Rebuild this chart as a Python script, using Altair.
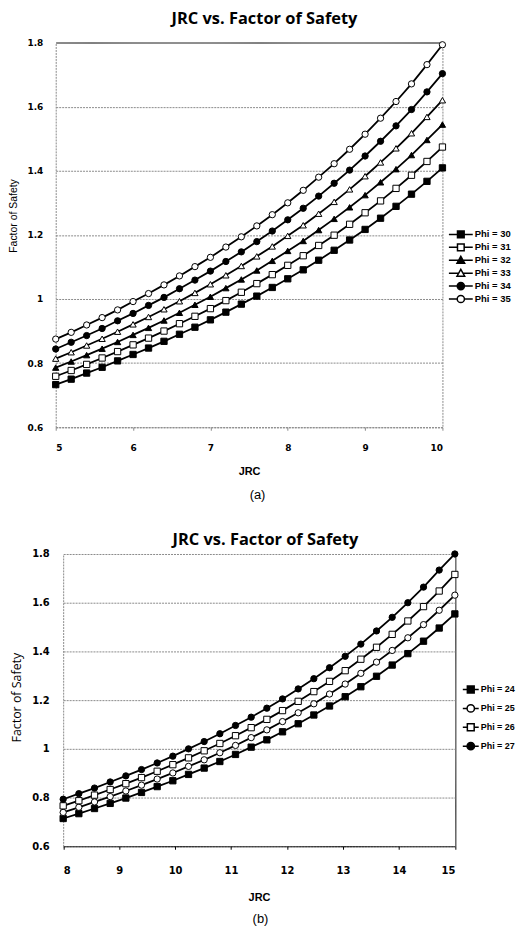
import altair as alt
import pandas as pd

# ---------------- panel (a) ----------------
jrc_a = [5.0, 5.2, 5.4, 5.6, 5.8, 6.0, 6.2, 6.4, 6.6, 6.8, 7.0, 7.2, 7.4,
         7.6, 7.8, 8.0, 8.2, 8.4, 8.6, 8.8, 9.0, 9.2, 9.4, 9.6, 9.8, 10.0]
names_a = ["Phi = 30", "Phi = 31", "Phi = 32", "Phi = 33", "Phi = 34", "Phi = 35"]
phi30 = [0.733, 0.750, 0.769, 0.787, 0.807, 0.827, 0.847, 0.868, 0.890, 0.912, 0.935, 0.959, 0.984,
         1.009, 1.036, 1.063, 1.091, 1.121, 1.152, 1.184, 1.217, 1.252, 1.289, 1.327, 1.367, 1.409]
phi31 = [0.759, 0.777, 0.796, 0.816, 0.836, 0.857, 0.878, 0.900, 0.923, 0.946, 0.970, 0.995, 1.021,
         1.048, 1.076, 1.105, 1.135, 1.167, 1.199, 1.233, 1.269, 1.306, 1.345, 1.386, 1.429, 1.474]
phi32 = [0.786, 0.805, 0.825, 0.845, 0.866, 0.888, 0.910, 0.933, 0.957, 0.982, 1.007, 1.034, 1.061,
         1.089, 1.119, 1.150, 1.181, 1.215, 1.250, 1.286, 1.324, 1.364, 1.405, 1.449, 1.496, 1.544]
phi33 = [0.814, 0.834, 0.855, 0.876, 0.898, 0.921, 0.944, 0.968, 0.993, 1.019, 1.046, 1.074, 1.103,
         1.133, 1.164, 1.197, 1.230, 1.266, 1.303, 1.342, 1.383, 1.426, 1.470, 1.517, 1.568, 1.620]
phi34 = [0.844, 0.865, 0.886, 0.908, 0.932, 0.955, 0.980, 1.005, 1.032, 1.059, 1.087, 1.117, 1.147,
         1.179, 1.212, 1.247, 1.283, 1.321, 1.361, 1.402, 1.446, 1.492, 1.540, 1.591, 1.646, 1.703]
phi35 = [0.875, 0.896, 0.919, 0.942, 0.966, 0.992, 1.017, 1.044, 1.072, 1.101, 1.130, 1.162, 1.194,
         1.228, 1.263, 1.300, 1.339, 1.380, 1.422, 1.467, 1.514, 1.564, 1.616, 1.671, 1.731, 1.793]
series_a = [phi30, phi31, phi32, phi33, phi34, phi35]
shapes_a = ["square", "square", "triangle-up", "triangle-up", "circle", "circle"]
fills_a = ["black", "white", "black", "white", "black", "white"]
xticks_a = [5, 6, 7, 8, 9, 10]

# ---------------- panel (b) ----------------
jrc_b = [8.00, 8.28, 8.56, 8.84, 9.12, 9.40, 9.68, 9.96, 10.24, 10.52, 10.80, 11.08, 11.36,
         11.64, 11.92, 12.20, 12.48, 12.76, 13.04, 13.32, 13.60, 13.88, 14.16, 14.44, 14.72, 15.00]
names_b = ["Phi = 24", "Phi = 25", "Phi = 26", "Phi = 27"]
phi24 = [0.714, 0.734, 0.755, 0.776, 0.798, 0.821, 0.845, 0.869, 0.895, 0.921, 0.948, 0.977, 1.007,
         1.037, 1.070, 1.103, 1.139, 1.176, 1.214, 1.255, 1.298, 1.344, 1.391, 1.442, 1.496, 1.554]
phi25 = [0.739, 0.760, 0.782, 0.804, 0.827, 0.851, 0.876, 0.901, 0.928, 0.955, 0.984, 1.014, 1.046,
         1.078, 1.112, 1.148, 1.185, 1.225, 1.266, 1.310, 1.356, 1.404, 1.456, 1.510, 1.569, 1.631]
phi26 = [0.766, 0.787, 0.810, 0.833, 0.857, 0.882, 0.908, 0.935, 0.963, 0.992, 1.022, 1.054, 1.087,
         1.121, 1.157, 1.195, 1.235, 1.277, 1.321, 1.368, 1.417, 1.470, 1.525, 1.584, 1.648, 1.716]
phi27 = [0.793, 0.816, 0.839, 0.864, 0.889, 0.915, 0.942, 0.970, 1.000, 1.030, 1.062, 1.096, 1.130,
         1.167, 1.205, 1.246, 1.288, 1.333, 1.380, 1.430, 1.484, 1.540, 1.600, 1.664, 1.734, 1.800]
series_b = [phi24, phi25, phi26, phi27]
shapes_b = ["square", "circle", "square", "circle"]
fills_b = ["black", "white", "white", "black"]
xticks_b = [8, 9, 10, 11, 12, 13, 14, 15]

yticks = [0.6, 0.8, 1.0, 1.2, 1.4, 1.6, 1.8]
chart_title = "JRC  vs. Factor of Safety"


def long_df(jrc, names, series):
    rows = []
    for name, vals in zip(names, series):
        for x, v in zip(jrc, vals):
            rows.append({"JRC": x, "FS": v, "series": name})
    return pd.DataFrame(rows)


def legend_path(kind, h):
    if kind == "square":
        return f"M-1,0H{-h}M{h},0H1M{-h},{-h}H{h}V{h}H{-h}Z"
    if kind == "circle":
        r = round(h * 1.08, 3)
        return f"M-1,0H{-r}M{r},0H1M{-r},0A{r},{r} 0 1,0 {r},0A{r},{r} 0 1,0 {-r},0Z"
    t = round(h * 1.15, 3)
    w = round(0.556 * t, 3)
    b = round(0.8 * t, 3)
    return f"M-1,0H{-w}M{w},0H1M0,{-t}L{t},{b}H{-t}Z"


def panel(df, names, shapes, fills, xvals, plot_w, height, p):
    grey = "#8a8a8a"
    off = p["x_off"]
    xdom = [xvals[0], xvals[-1]]
    top_test = "datum.value >= 1.79"
    right_test = f"datum.value >= {xvals[-1] - 0.01}"
    x_axis = alt.Axis(
        values=xvals, format="d",
        labelFont="DejaVu Sans", labelFontSize=p["tick_fs"], labelFontWeight="bold",
        labelColor="black", labelPadding=p["xlab_pad"],
        tickSize=3, tickColor=p["xdomain_color"],
        domainColor=p["xdomain_color"], domainDash=p["xdomain_dash"],
        grid=True,
        gridColor=p["right_color"], gridDash=p["right_dash"],
        gridOpacity={"condition": {"test": right_test, "value": 1}, "value": 0},
        title="JRC", titleFont="Liberation Sans", titleFontSize=11, titleFontWeight="bold",
        titleColor="black", titlePadding=p["xtitle_pad"],
    )
    y_axis = alt.Axis(
        values=yticks, format=".1~f", offset=-off,
        labelFont="DejaVu Sans", labelFontSize=p["tick_fs"], labelFontWeight="bold",
        labelColor="black", labelPadding=p["ylab_pad"], ticks=False,
        domainColor=grey, domainDash=[2, 1],
        grid=True,
        gridColor={"condition": {"test": top_test, "value": p["top_color"]}, "value": grey},
        gridDash={"condition": {"test": top_test, "value": p["top_dash"]}, "value": [2, 1]},
        title="Factor of Safety", titleFont=p["ytitle_font"], titleFontSize=p["ytitle_fs"],
        titleFontWeight="normal", titleColor="black",
        titleY=p["ytitle_y"], titlePadding=p["ytitle_pad"],
    )
    x = alt.X("JRC:Q", scale=alt.Scale(domain=xdom, range=[off, off + plot_w], nice=False,
                                       zero=False), axis=x_axis)
    y = alt.Y("FS:Q", scale=alt.Scale(domain=[0.6, 1.8], nice=False, zero=False), axis=y_axis)

    lines = alt.Chart(df).mark_line(color="black", strokeWidth=1.8).encode(
        x=x, y=y, detail="series:N")
    pts = alt.Chart(df).mark_point(filled=True, stroke="black", strokeWidth=1, size=40,
                                   opacity=1).encode(
        x=x, y=y,
        shape=alt.Shape("series:N", scale=alt.Scale(domain=names, range=shapes), legend=None),
        fill=alt.Fill("series:N", scale=alt.Scale(domain=names, range=fills), legend=None),
    )
    leg = alt.Legend(
        orient="none", legendX=p["leg_x"], legendY=p["leg_y"], title=None,
        padding=0, rowPadding=0, clipHeight=p["leg_row"], symbolSize=p["leg_size"],
        symbolStrokeColor="black", symbolStrokeWidth=1.5,
        labelFont="Liberation Sans", labelFontSize=p["leg_fs"], labelFontWeight="bold",
        labelColor="black", labelOffset=1, labelLimit=300,
    )
    paths = [legend_path(k, p["leg_h"]) for k in shapes]
    legend_layer = alt.Chart(df).transform_filter("false").mark_point(
        filled=True, stroke="black", strokeWidth=1.5, opacity=1).encode(
        shape=alt.Shape("series:N", scale=alt.Scale(domain=names, range=paths), legend=leg),
        fill=alt.Fill("series:N", scale=alt.Scale(domain=names, range=fills), legend=leg),
        stroke=alt.Stroke("series:N", scale=alt.Scale(domain=names, range=["black"] * len(names)),
                          legend=leg),
    )
    ttl = alt.Chart(pd.DataFrame({"t": [chart_title]})).mark_text(
        font="Open Sans", fontSize=16.5, fontWeight="bold", align="center", baseline="middle",
        color="black"
    ).encode(text="t:N", x=alt.value(p["title_x"]), y=alt.value(p["title_y"]))
    cap = alt.Chart(pd.DataFrame({"t": [p["caption"]]})).mark_text(
        font="Liberation Sans", fontSize=13, align="center", baseline="middle", color="black"
    ).encode(text="t:N", x=alt.value(p["cap_x"]), y=alt.value(p["cap_y"]))

    return alt.layer(lines, pts, legend_layer, ttl, cap).resolve_scale(
        shape="independent", fill="independent", stroke="independent"
    ).properties(width=off + plot_w, height=height)


df_a = long_df(jrc_a, names_a, series_a)
df_b = long_df(jrc_b, names_b, series_b)

pa = dict(x_off=0, tick_fs=9, xlab_pad=13, xtitle_pad=14, ylab_pad=13,
          xdomain_color="#8a8a8a", xdomain_dash=[2, 1],
          right_color="#8a8a8a", right_dash=[2, 1],
          top_color="#000000", top_dash=[1, 0],
          ytitle_font="Liberation Sans", ytitle_fs=10.5, ytitle_y=174, ytitle_pad=9,
          leg_x=394.5, leg_y=186.7, leg_row=12.6, leg_size=576, leg_h=0.28, leg_fs=9.5,
          caption="(a)", cap_x=203, cap_y=455.5, title_x=210, title_y=-23.5)
pb = dict(x_off=7.5, tick_fs=10, xlab_pad=16, xtitle_pad=16.6, ylab_pad=14,
          xdomain_color="#000000", xdomain_dash=[1, 0],
          right_color="#000000", right_dash=[1, 0],
          top_color="#8a8a8a", top_dash=[2, 1],
          ytitle_font="Open Sans", ytitle_fs=12.5, ytitle_y=144, ytitle_pad=8,
          leg_x=408.5, leg_y=127, leg_row=18.6, leg_size=256, leg_h=0.43, leg_fs=9,
          caption="(b)", cap_x=206, cap_y=367.5, title_x=211, title_y=-14)

top = panel(df_a, names_a, shapes_a, fills_a, xticks_a, 389, 387, pa)
bottom = panel(df_b, names_b, shapes_b, fills_b, xticks_b, 394, 294, pb)

chart = alt.concat(top, bottom, columns=1, spacing=29.5).resolve_scale(
    x="independent", y="independent", shape="independent", fill="independent",
    stroke="independent"
).properties(padding=0, background="white").configure_view(stroke=None)

chart.save("out.html", embed_options={"renderer": "svg", "actions": False})
